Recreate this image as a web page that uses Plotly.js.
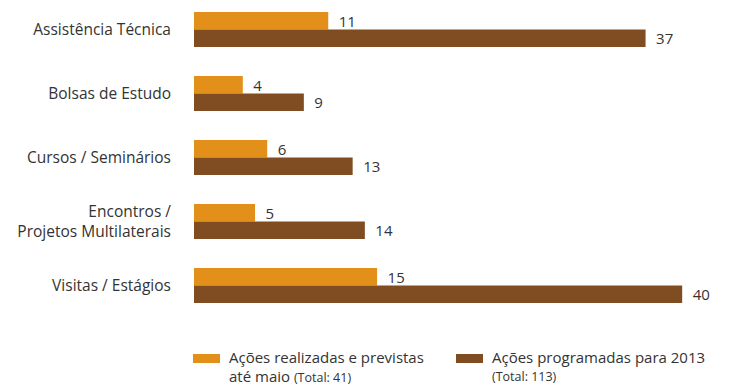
<!DOCTYPE html>
<html><head><meta charset="utf-8">
<script src="https://cdn.plot.ly/plotly-3.0.1.min.js"></script>
<style>html,body{margin:0;padding:0;background:#fff}</style>
</head><body>
<div id="chart" style="width:737px;height:385px"></div>
<script>
const categories = ["Assistência Técnica","Bolsas de Estudo","Cursos / Seminários","Encontros /<br>Projetos Multilaterais","Visitas / Estágios"];
const realizadas = [11,4,6,5,15];
const programadas = [37,9,13,14,40];
const seriesLine1 = ["Ações realizadas e previstas", "Ações programadas para 2013"];
const seriesLine2 = ["até maio <span style='font-size:12.5px'>(Total: 41)</span>", "<span style='font-size:12.5px'>(Total: 113)</span>"];
const colors = ["#E3901B","#7F4D21"];
const FONT = "'Open Sans', 'Noto Sans', sans-serif";

const traces = [realizadas, programadas].map((vals,i)=>({
  type:'bar', orientation:'h', y:categories, x:vals,
  marker:{color:colors[i]}, text:vals.map(v=>'\u2002'+v), textposition:'outside', constraintext:'none',
  textfont:{family:FONT,size:15,color:'#333'}, cliponaxis:false, hoverinfo:'none', name:'s'+i
}));

// legend in paper coords (plot area x 194..731, y 5..318)
const px = p => (p-194)/537, py = p => (318-p)/313;
const shapes = [], annotations = [];
const legX = [193, 456];
legX.forEach((x,i)=>{
  shapes.push({type:'rect', xref:'paper', yref:'paper', x0:px(x), x1:px(x+27), y0:py(363), y1:py(354), fillcolor:colors[i], line:{width:0}});
  annotations.push({xref:'paper', yref:'paper', x:px(x+35), y:py(357), xanchor:'left', yanchor:'middle', align:'left', showarrow:false, borderpad:0, text:seriesLine1[i], font:{family:FONT,size:15,color:'#333'}});
  annotations.push({xref:'paper', yref:'paper', x:px(x+35), y:py(376), xanchor:'left', yanchor:'middle', align:'left', showarrow:false, borderpad:0, text:seriesLine2[i], font:{family:FONT,size:15,color:'#333'}});
});

Plotly.newPlot('chart', traces, {
  width:737, height:385, margin:{l:194,r:6,t:5,b:67},
  paper_bgcolor:'#fff', plot_bgcolor:'#fff', showlegend:false,
  barmode:'group', bargap:0.453, bargroupgap:0,
  xaxis:{range:[0,44], visible:false, fixedrange:true},
  yaxis:{type:'category', range:[4.508,-0.383], showgrid:false, zeroline:false, showline:false, ticks:'', ticklabelstandoff:22, tickfont:{family:FONT,size:15.5,color:'#333'}},
  shapes, annotations,
  font:{family:FONT}
}, {staticPlot:true});
</script>
</body></html>
